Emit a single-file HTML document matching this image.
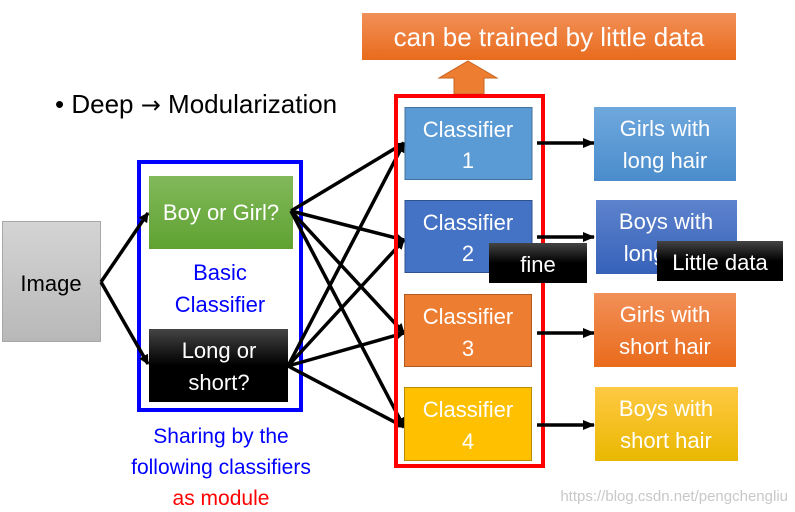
<!DOCTYPE html>
<html><head><meta charset="utf-8"><style>
body{margin:0;background:#fff;}
svg{display:block;font-family:"Liberation Sans",sans-serif;}
</style></head><body>
<svg width="795" height="512" viewBox="0 0 795 512" xmlns="http://www.w3.org/2000/svg">
<defs>
<marker id="ah" markerWidth="10" markerHeight="10" refX="9" refY="5" orient="auto" markerUnits="userSpaceOnUse"><path d="M0,0 L10,5 L0,10 z" fill="#000"/></marker>
<marker id="ah2" markerWidth="12" markerHeight="10" refX="11" refY="5" orient="auto" markerUnits="userSpaceOnUse"><path d="M0,0 L12,5 L0,10 z" fill="#000"/></marker>
<linearGradient id="gImg" x1="0" y1="0" x2="0" y2="1"><stop offset="0" stop-color="#d4d4d4"/><stop offset="1" stop-color="#b8b8b8"/></linearGradient>
<linearGradient id="gGreen" x1="0" y1="0" x2="0" y2="1"><stop offset="0" stop-color="#82b95a"/><stop offset="1" stop-color="#5fa232"/></linearGradient>
<linearGradient id="gBlack" x1="0" y1="0" x2="0" y2="1"><stop offset="0" stop-color="#444"/><stop offset="0.5" stop-color="#000"/><stop offset="1" stop-color="#000"/></linearGradient>
<linearGradient id="gO" x1="0" y1="0" x2="0" y2="1"><stop offset="0" stop-color="#f19058"/><stop offset="1" stop-color="#e96b1c"/></linearGradient>
<linearGradient id="gB1" x1="0" y1="0" x2="0" y2="1"><stop offset="0" stop-color="#6fa8dd"/><stop offset="1" stop-color="#4a8ccc"/></linearGradient>
<linearGradient id="gB2" x1="0" y1="0" x2="0" y2="1"><stop offset="0" stop-color="#5d83cc"/><stop offset="1" stop-color="#3762ba"/></linearGradient>
<linearGradient id="gY" x1="0" y1="0" x2="0" y2="1"><stop offset="0" stop-color="#ffc944"/><stop offset="1" stop-color="#e9b800"/></linearGradient>
</defs>

<rect x="362" y="13" width="374" height="47" fill="url(#gO)"/>
<text x="549" y="46" font-size="26" fill="#fff" text-anchor="middle">can be trained by little data</text>
<path d="M468,61 L497,78 L484,78 L484,94 L454,94 L454,78 L439,78 Z" fill="#ed7d31" stroke="#c8651f" stroke-width="1"/>

<text x="55" y="113" font-size="26" fill="#000">• Deep <tspan font-family="DejaVu Sans" font-size="24">→</tspan> Modularization</text>

<rect x="2.5" y="221.5" width="98" height="120" fill="url(#gImg)" stroke="#a8a8a8"/>
<text x="51" y="291" font-size="22" text-anchor="middle" fill="#000">Image</text>

<rect x="139" y="162" width="162" height="248" fill="none" stroke="#0000ff" stroke-width="4"/>
<rect x="149" y="176" width="144" height="73" fill="url(#gGreen)"/>
<text x="221" y="220" font-size="22" text-anchor="middle" fill="#fff">Boy or Girl?</text>
<text x="220" y="280" font-size="22" text-anchor="middle" fill="#0000ff">Basic</text>
<text x="220" y="312" font-size="22" text-anchor="middle" fill="#0000ff">Classifier</text>
<rect x="149" y="329" width="139" height="73" fill="url(#gBlack)"/>
<text x="219" y="358" font-size="22" text-anchor="middle" fill="#fff">Long or</text>
<text x="219" y="390" font-size="22" text-anchor="middle" fill="#fff">short?</text>

<text x="221" y="443" font-size="21" text-anchor="middle" fill="#0000ff">Sharing by the</text>
<text x="221" y="474" font-size="21" text-anchor="middle" fill="#0000ff">following classifiers</text>
<text x="221" y="505" font-size="21" text-anchor="middle" fill="#ff0000">as module</text>

<g stroke="#000" stroke-width="3.5" fill="none">
<line x1="101" y1="282" x2="148" y2="213" marker-end="url(#ah)"/>
<line x1="101" y1="282" x2="148" y2="364" marker-end="url(#ah)"/>
<line x1="291" y1="211" x2="404" y2="143" marker-end="url(#ah)"/>
<line x1="291" y1="211" x2="404" y2="240" marker-end="url(#ah)"/>
<line x1="291" y1="211" x2="404" y2="333" marker-end="url(#ah)"/>
<line x1="291" y1="211" x2="404" y2="427" marker-end="url(#ah)"/>
<line x1="288" y1="366" x2="404" y2="143" marker-end="url(#ah)"/>
<line x1="288" y1="366" x2="404" y2="240" marker-end="url(#ah)"/>
<line x1="288" y1="366" x2="404" y2="333" marker-end="url(#ah)"/>
<line x1="288" y1="366" x2="404" y2="427" marker-end="url(#ah)"/>
</g>

<rect x="405" y="107.5" width="127" height="72" fill="#5b9bd5" stroke="#41719c"/>
<text x="468" y="137" font-size="22" text-anchor="middle" fill="#fff">Classifier</text>
<text x="468" y="168" font-size="22" text-anchor="middle" fill="#fff">1</text>
<rect x="405" y="200.5" width="127" height="72" fill="#4472c4" stroke="#2f528f"/>
<text x="468" y="230" font-size="22" text-anchor="middle" fill="#fff">Classifier</text>
<text x="468" y="261" font-size="22" text-anchor="middle" fill="#fff">2</text>
<rect x="404.5" y="294.5" width="127" height="72" fill="#ed7d31" stroke="#ae5a21"/>
<text x="468" y="324" font-size="22" text-anchor="middle" fill="#fff">Classifier</text>
<text x="468" y="356" font-size="22" text-anchor="middle" fill="#fff">3</text>
<rect x="404.5" y="387.5" width="127" height="73" fill="#ffc000" stroke="#bc8c00"/>
<text x="468" y="417" font-size="22" text-anchor="middle" fill="#fff">Classifier</text>
<text x="468" y="449" font-size="22" text-anchor="middle" fill="#fff">4</text>

<rect x="396" y="96" width="147" height="370" fill="none" stroke="#ff0000" stroke-width="4"/>

<g stroke="#000" stroke-width="3.5">
<line x1="537" y1="143" x2="594" y2="143" marker-end="url(#ah2)"/>
<line x1="537" y1="237" x2="594" y2="237" marker-end="url(#ah2)"/>
<line x1="537" y1="333" x2="594" y2="333" marker-end="url(#ah2)"/>
<line x1="537" y1="425" x2="594" y2="425" marker-end="url(#ah2)"/>
</g>

<rect x="594" y="107" width="142" height="74" fill="url(#gB1)"/>
<text x="665" y="136" font-size="22" text-anchor="middle" fill="#fff">Girls with</text>
<text x="665" y="168" font-size="22" text-anchor="middle" fill="#fff">long hair</text>
<rect x="596" y="200" width="141" height="74" fill="url(#gB2)"/>
<text x="666" y="229" font-size="22" text-anchor="middle" fill="#fff">Boys with</text>
<text x="666" y="261" font-size="22" text-anchor="middle" fill="#fff">long hair</text>
<rect x="594" y="293" width="142" height="74" fill="url(#gO)"/>
<text x="665" y="322" font-size="22" text-anchor="middle" fill="#fff">Girls with</text>
<text x="665" y="354" font-size="22" text-anchor="middle" fill="#fff">short hair</text>
<rect x="595" y="387" width="143" height="74" fill="url(#gY)"/>
<text x="666" y="416" font-size="22" text-anchor="middle" fill="#fff">Boys with</text>
<text x="666" y="448" font-size="22" text-anchor="middle" fill="#fff">short hair</text>

<rect x="489" y="243" width="98" height="40" fill="url(#gBlack)"/>
<text x="538" y="272" font-size="22" text-anchor="middle" fill="#fff">fine</text>
<rect x="657" y="241" width="126" height="40" fill="url(#gBlack)"/>
<text x="720" y="270" font-size="22" text-anchor="middle" fill="#fff">Little data</text>

<text x="788" y="501" font-size="15" text-anchor="end" fill="#c8c8c8">https://blog.csdn.net/pengchengliu</text>
</svg>
</body></html>
